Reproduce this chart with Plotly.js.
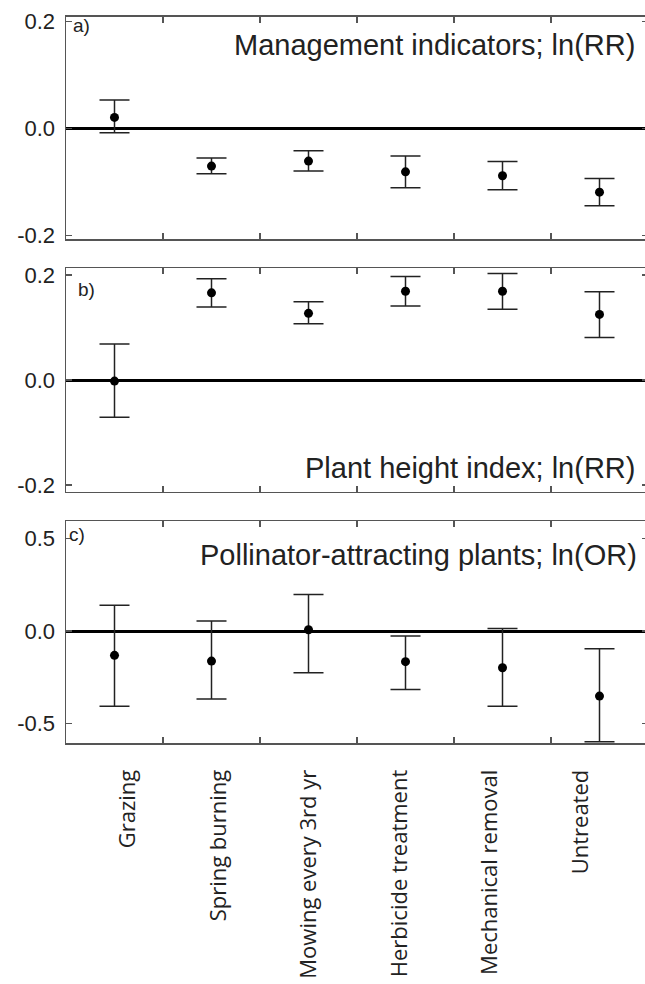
<!DOCTYPE html>
<html>
<head>
<meta charset="utf-8">
<script src="https://cdn.plot.ly/plotly-3.0.1.min.js"></script>
<style>
html,body{margin:0;padding:0;overflow:hidden;background:#fff;}
#chart{width:650px;height:984px;}
</style>
</head>
<body>
<div id="chart"></div>
<script>
// Categories
const treatments = ["Grazing", "Spring burning", "Mowing every 3rd yr", "Herbicide treatment", "Mechanical removal", "Untreated"];

// a) Management indicators; ln(RR)
const mgmtMean  = [0.0205, -0.0703, -0.061, -0.081, -0.0884, -0.119];
const mgmtUpper = [0.053, -0.0554, -0.0417, -0.0516, -0.0616, -0.0933];
const mgmtLower = [-0.008, -0.0846, -0.0797, -0.1108, -0.1145, -0.1444];

// b) Plant height index; ln(RR)
const heightMean  = [-0.002, 0.166, 0.127, 0.169, 0.169, 0.125];
const heightUpper = [0.0686, 0.193, 0.149, 0.197, 0.203, 0.168];
const heightLower = [-0.071, 0.139, 0.107, 0.141, 0.135, 0.081];

// c) Pollinator-attracting plants; ln(OR)
const pollMean  = [-0.131, -0.162, 0.007, -0.165, -0.198, -0.351];
const pollUpper = [0.140, 0.054, 0.198, -0.027, 0.014, -0.095];
const pollLower = [-0.406, -0.367, -0.225, -0.315, -0.406, -0.597];

// Tick labels
const yTickValsAB = [-0.2, 0, 0.2];
const yTickTextAB = ["-0.2", "0.0", "0.2"];
const yTickValsC = [-0.5, 0, 0.5];
const yTickTextC = ["-0.5", "0.0", "0.5"];

const panelTitles = ["Management indicators; ln(RR)", "Plant height index; ln(RR)", "Pollinator-attracting plants; ln(OR)"];
const panelLetters = ["a)", "b)", "c)"];

const labelIdx = treatments.map((t, i) => i);

function trace(mean, upper, lower, xa, ya) {
  return {
    type: "scatter", mode: "markers",
    x: treatments, y: mean,
    xaxis: xa, yaxis: ya,
    marker: {color: "#000", size: 9},
    error_y: {
      type: "data", symmetric: false,
      array: upper.map((u, i) => u - mean[i]),
      arrayminus: lower.map((l, i) => mean[i] - l),
      color: "#222", thickness: 1.5, width: 15
    },
    showlegend: false, hoverinfo: "skip"
  };
}

const data = [
  trace(mgmtMean, mgmtUpper, mgmtLower, "x", "y"),
  trace(heightMean, heightUpper, heightLower, "x2", "y2"),
  trace(pollMean, pollUpper, pollLower, "x3", "y3"),
  // invisible carrier so the category-label axis is drawn
  {type: "scatter", mode: "markers", x: labelIdx, y: pollMean, xaxis: "x4", yaxis: "y3",
   marker: {opacity: 0}, showlegend: false, hoverinfo: "skip"}
];

const frameColor = "#555";
function xAxis(anchor) {
  return {
    anchor: anchor, domain: [0, 1], type: "category",
    categoryorder: "array", categoryarray: treatments,
    range: [-0.5, 5.5], tickson: "boundaries",
    ticks: "inside", ticklen: 6, tickwidth: 1.5, tickcolor: frameColor,
    showline: true, linecolor: frameColor, linewidth: 1.5, mirror: "ticks",
    showgrid: false, zeroline: false, showticklabels: false
  };
}
function yAxis(anchor, domain, range, vals, text) {
  return {
    anchor: anchor, domain: domain, range: range,
    tickmode: "array", tickvals: vals, ticktext: text,
    ticks: "inside", ticklen: 6, tickwidth: 1.5, tickcolor: frameColor,
    showline: true, linecolor: frameColor, linewidth: 1.5, mirror: "ticks",
    showgrid: false,
    zeroline: true, zerolinecolor: "#000", zerolinewidth: 3,
    ticklabelstandoff: 5,
    tickfont: {family: "Liberation Sans, Arial, sans-serif", size: 22, color: "#222"}
  };
}

const titleFont = {family: "Liberation Sans, Arial, sans-serif", size: 29, color: "#222"};
const letterFont = {family: "Liberation Sans, Arial, sans-serif", size: 19, color: "#222"};

const layout = {
  width: 650, height: 984,
  margin: {l: 66, r: 2, t: 0, b: 0},
  paper_bgcolor: "#fff", plot_bgcolor: "#fff",
  showlegend: false,
  xaxis: xAxis("y"),
  xaxis2: xAxis("y2"),
  xaxis3: xAxis("y3"),
  xaxis4: {
    overlaying: "x3", anchor: "y3", side: "bottom", domain: [0, 1],
    range: [-0.684, 5.740], tickmode: "array", tickvals: labelIdx, ticktext: treatments,
    showline: false, ticks: "", showgrid: false, zeroline: false,
    tickangle: -90, ticklabelstandoff: 21,
    tickfont: {family: "Open Sans, sans-serif", size: 22, color: "#222"}
  },
  yaxis: yAxis("x", [0.7568, 0.9830], [-0.207, 0.2085], yTickValsAB, yTickTextAB),
  yaxis2: yAxis("x2", [0.5003, 0.7273], [-0.2127, 0.2127], yTickValsAB, yTickTextAB),
  yaxis3: yAxis("x3", [0.2446, 0.4705], [-0.606, 0.594], yTickValsC, yTickTextC),
  annotations: [
    {text: panelTitles[0], xref: "x domain", yref: "y domain", x: 0.981, y: 0.873, xanchor: "right", yanchor: "middle", showarrow: false, font: titleFont},
    {text: panelTitles[1], xref: "x2 domain", yref: "y2 domain", x: 0.981, y: 0.106, xanchor: "right", yanchor: "middle", showarrow: false, font: titleFont},
    {text: panelTitles[2], xref: "x3 domain", yref: "y3 domain", x: 0.985, y: 0.847, xanchor: "right", yanchor: "middle", showarrow: false, font: titleFont},
    {text: panelLetters[0], xref: "x domain", yref: "y domain", x: 0.008, y: 0.960, xanchor: "left", yanchor: "middle", showarrow: false, font: letterFont},
    {text: panelLetters[1], xref: "x2 domain", yref: "y2 domain", x: 0.018, y: 0.905, xanchor: "left", yanchor: "middle", showarrow: false, font: letterFont},
    {text: panelLetters[2], xref: "x3 domain", yref: "y3 domain", x: 0.002, y: 0.939, xanchor: "left", yanchor: "middle", showarrow: false, font: letterFont}
  ]
};

Plotly.newPlot("chart", data, layout, {staticPlot: true, displayModeBar: false});
</script>
</body>
</html>
